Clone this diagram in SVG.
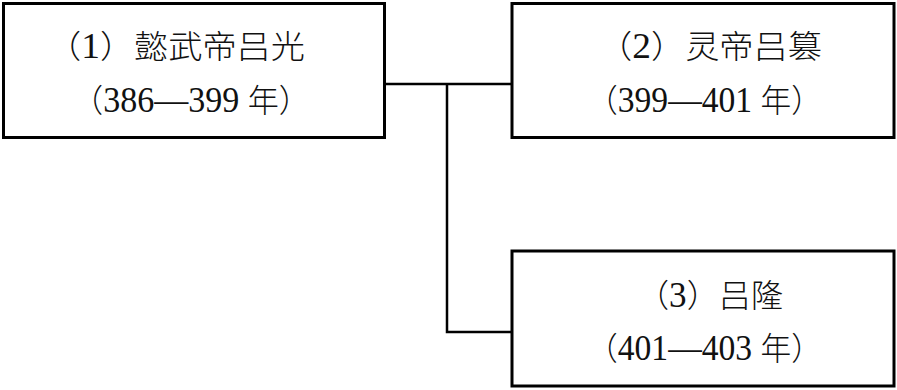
<svg xmlns="http://www.w3.org/2000/svg" width="897" height="390" viewBox="0 0 897 390">
<style>
.box{fill:#fff;stroke:#000;stroke-width:3}
.ln{fill:none;stroke:#000;stroke-width:2.5}
text{font-family:"Noto Sans CJK SC",sans-serif;font-size:32px;fill:#111;font-weight:300}
.d{font-family:"Liberation Serif",serif;font-size:35px;font-weight:400}
</style>
<rect width="897" height="390" fill="#fff"/>
<g id="connectors">
<polyline class="ln" points="385,84 512,84"/>
<polyline class="ln" points="447,84 447,332 512,332"/>
</g>
<g id="node1">
<rect class="box" x="3.5" y="3.5" width="381" height="134"/>
<text x="47" y="58" textLength="258" lengthAdjust="spacingAndGlyphs">（<tspan class="d">1</tspan>）懿武帝吕光</text>
<text x="72" y="112" textLength="238" lengthAdjust="spacingAndGlyphs">（<tspan class="d">386—399 </tspan>年）</text>
</g>
<g id="node2">
<rect class="box" x="512" y="3.5" width="382" height="134"/>
<text x="598" y="58" textLength="224" lengthAdjust="spacingAndGlyphs">（<tspan class="d">2</tspan>）灵帝吕篡</text>
<text x="587" y="112" textLength="235" lengthAdjust="spacingAndGlyphs">（<tspan class="d">399—401 </tspan>年）</text>
</g>
<g id="node3">
<rect class="box" x="512" y="251" width="382" height="135"/>
<text x="637" y="307" textLength="146" lengthAdjust="spacingAndGlyphs">（<tspan class="d">3</tspan>）吕隆</text>
<text x="587" y="360" textLength="235" lengthAdjust="spacingAndGlyphs">（<tspan class="d">401—403 </tspan>年）</text>
</g>
</svg>
